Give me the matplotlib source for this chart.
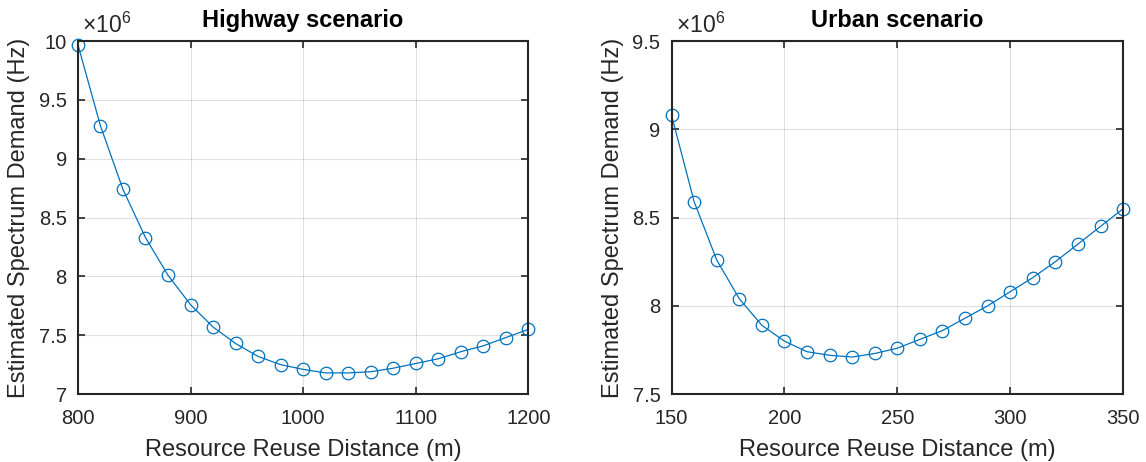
import numpy as np
import matplotlib
matplotlib.use("Agg")
import matplotlib.pyplot as plt
from matplotlib.ticker import FuncFormatter

plt.rcParams["font.family"] = ["Liberation Sans", "DejaVu Sans"]
plt.rcParams["mathtext.fontset"] = "custom"
plt.rcParams["mathtext.rm"] = "Liberation Sans"

# Highway scenario
hw_dist = [800, 820, 840, 860, 880, 900, 920, 940, 960, 980, 1000,
           1020, 1040, 1060, 1080, 1100, 1120, 1140, 1160, 1180, 1200]
hw_demand = [9.97, 9.28, 8.74, 8.33, 8.01, 7.76, 7.57, 7.43, 7.32, 7.25, 7.21,
             7.18, 7.18, 7.19, 7.22, 7.26, 7.30, 7.36, 7.41, 7.48, 7.55]

# Urban scenario
ur_dist = [150, 160, 170, 180, 190, 200, 210, 220, 230, 240, 250,
           260, 270, 280, 290, 300, 310, 320, 330, 340, 350]
ur_demand = [9.08, 8.59, 8.26, 8.04, 7.89, 7.80, 7.74, 7.72, 7.71, 7.73, 7.76,
             7.81, 7.86, 7.93, 8.00, 8.08, 8.16, 8.25, 8.35, 8.45, 8.55]

BLUE = "#0072BD"
AX_COLOR = "#262626"


def style_axes(ax, title, xlim, ylim, xticks, yticks):
    ax.set_xlim(*xlim)
    ax.set_ylim(*ylim)
    ax.set_xticks(xticks)
    ax.set_yticks(yticks)
    ax.yaxis.set_major_formatter(FuncFormatter(lambda v, p: "%g" % (v / 1e6)))
    ax.set_title(title, fontsize=17, fontweight="bold", pad=10)
    ax.set_xlabel("Resource Reuse Distance (m)", fontsize=17, color=AX_COLOR,
                  labelpad=8)
    ax.set_ylabel("Estimated Spectrum Demand (Hz)", fontsize=17, color=AX_COLOR,
                  labelpad=6)
    ax.grid(True, color="#000000", alpha=0.12, linewidth=0.8)
    ax.tick_params(direction="in", top=True, right=True, labelsize=14.5,
                   colors=AX_COLOR, width=1.2, length=5)
    ax.tick_params(axis="x", pad=11)
    ax.tick_params(axis="y", pad=8)
    for s in ax.spines.values():
        s.set_color(AX_COLOR)
        s.set_linewidth(1.5)
    # MATLAB-style exponent label above the y axis
    ax.text(0.01, 1.01, r"$\times10^{6}$", transform=ax.transAxes,
            ha="left", va="bottom", fontsize=16.5, color=AX_COLOR)
    ax.set_axisbelow(True)


fig = plt.figure(figsize=(11.46, 4.62), dpi=100)
ax1 = fig.add_axes([0.068, 0.147, 0.393, 0.764])
ax2 = fig.add_axes([0.586, 0.147, 0.394, 0.764])

ax1.plot(hw_dist, np.array(hw_demand) * 1e6, color=BLUE, linewidth=0.9,
         marker="o", markersize=9, markerfacecolor="none", markeredgewidth=0.9,
         clip_on=False)
style_axes(ax1, "Highway scenario", (800, 1200), (7e6, 10e6),
           [800, 900, 1000, 1100, 1200], np.arange(7, 10.01, 0.5) * 1e6)

ax2.plot(ur_dist, np.array(ur_demand) * 1e6, color=BLUE, linewidth=0.9,
         marker="o", markersize=9, markerfacecolor="none", markeredgewidth=0.9,
         clip_on=False)
style_axes(ax2, "Urban scenario", (150, 350), (7.5e6, 9.5e6),
           [150, 200, 250, 300, 350], np.arange(7.5, 9.51, 0.5) * 1e6)

fig.savefig("out.png", dpi=100)
